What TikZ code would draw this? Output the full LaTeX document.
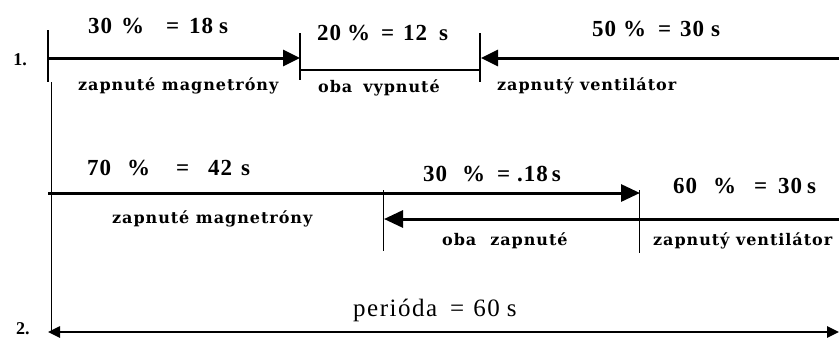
\documentclass[tikz,border=0pt]{standalone}
\usepackage{fontspec}
\setmainfont{Liberation Serif}
\newfontfamily\lblfont{DejaVu Serif}
\usetikzlibrary{arrows.meta}
\newcommand{\gp}[1]{\hspace{#1pt}}
\begin{document}
\begin{tikzpicture}[x=1pt,y=-1pt,
  big/.style={font=\fontsize{23}{24}\selectfont\bfseries\addfontfeature{LetterSpace=4}, inner sep=0pt, anchor=west},
  small/.style={font=\lblfont\fontsize{16}{17}\selectfont\bfseries\addfontfeature{LetterSpace=6}, inner sep=0pt, anchor=base west},
  per/.style={font=\fontsize{25}{26}\selectfont\addfontfeature{LetterSpace=6}, inner sep=0pt, anchor=west},
  numlab/.style={font=\fontsize{18}{19}\selectfont\bfseries, inner sep=0pt},
  thickline/.style={line width=3pt},
  tickline/.style={line width=2.5pt},
  thinline/.style={line width=1pt},
  tipA/.style={-{Triangle[length=17pt,width=16pt]}},
  tipB/.style={-{Triangle[length=19pt,width=17pt]}},
  tipC/.style={{Triangle[length=12pt,width=11pt]}-{Triangle[length=12pt,width=11pt]}}
]
\useasboundingbox (0,0) rectangle (839,338);
% row 1 coordinates
\coordinate (t1a) at (48,30); \coordinate (t1b) at (48,82);
\coordinate (t2a) at (300,33); \coordinate (t2b) at (300,80);
\coordinate (t3a) at (480,33); \coordinate (t3b) at (480,82);
\coordinate (a1s) at (48,58); \coordinate (a1e) at (300,58);
\coordinate (m1s) at (300,70); \coordinate (m1e) at (480,70);
\coordinate (a3s) at (839,58); \coordinate (a3e) at (481,58);
\coordinate (vtop) at (51.5,82); \coordinate (vbot) at (51.5,332);
\draw[tickline] (t1a) -- (t1b);
\draw[tickline] (t2a) -- (t2b);
\draw[tickline] (t3a) -- (t3b);
\draw[thickline,tipA] (a1s) -- (a1e);
\draw[line width=1.6pt] (m1s) -- (m1e);
\draw[thickline,tipA] (a3s) -- (a3e);
\draw[line width=1.2pt] (vtop) -- (vbot);
\node[numlab] (n1) at (20,60) {1.};
\node[big] (l1) at (88,26) {30\gp{9}\%\gp{22}=\gp{10}18\gp{6}s};
\node[small] (s1) at (78,90) {zapnuté magnetróny};
\node[big] (l2) at (317,33) {20\gp{6}\%\gp{11}=\gp{9}12\gp{12}s};
\node[small] (s2) at (318,92) {oba\gp{11}vypnuté};
\node[big] (l3) at (592,29) {50\gp{7}\%\gp{12}=\gp{9}30\gp{7}s};
\node[small] (s3) at (497,90) {zapnutý ventilátor};
% row 2
\coordinate (b1s) at (48,193); \coordinate (b1e) at (640,193);
\coordinate (b2s) at (839,219); \coordinate (b2e) at (384,219);
\coordinate (u1a) at (383,190); \coordinate (u1b) at (383,251);
\coordinate (u2a) at (639,190); \coordinate (u2b) at (639,253);
\draw[thickline,tipB] (b1s) -- (b1e);
\draw[thickline,tipB] (b2s) -- (b2e);
\draw[thinline] (u1a) -- (u1b);
\draw[thinline] (u2a) -- (u2b);
\node[big] (l4) at (87,168) {70\gp{16}\%\gp{26}=\gp{19}42\gp{9}s};
\node[small] (s4) at (112,223) {zapnuté magnetróny};
\node[big] (l5) at (423,174) {30\gp{15}\%\gp{12}=\gp{7}.18\gp{4}s};
\node[small] (s5) at (442,245) {oba\gp{14}zapnuté};
\node[big] (l6) at (673,186) {60\gp{16}\%\gp{18}=\gp{11}30\gp{5}s};
\node[small] (s6) at (653,245) {zapnutý ventilátor};
% row 3
\coordinate (p1) at (48,332); \coordinate (p2) at (839,332);
\draw[line width=2.5pt,tipC] (p1) -- (p2);
\node[numlab] (n2) at (23,329) {2.};
\node[per] (l7) at (353,310) {perióda\gp{13}=\gp{9}60\gp{7}s};
\end{tikzpicture}
\end{document}
